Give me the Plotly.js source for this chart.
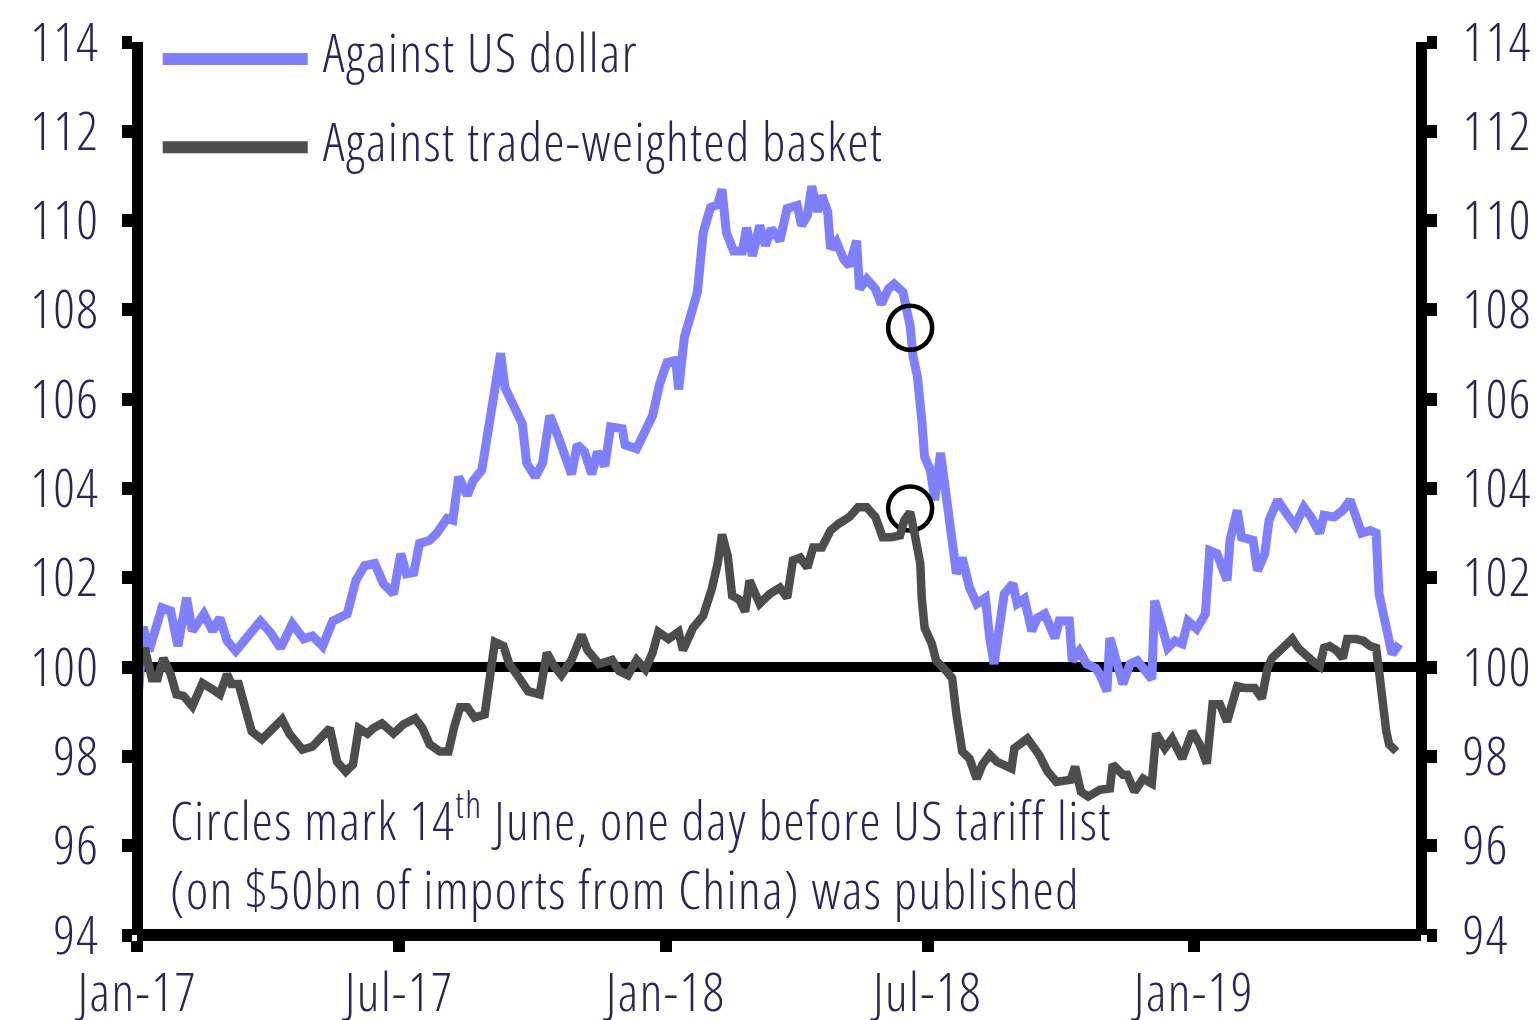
<!DOCTYPE html>
<html>
<head>
<meta charset="utf-8">
<script src="https://cdn.plot.ly/plotly-3.0.1.min.js"></script>
<style>
  html, body { margin: 0; padding: 0; background: #ffffff; }
  #chart { width: 1538px; height: 1020px; }
  svg text { font-stretch: 75% !important; font-weight: 300 !important; letter-spacing: 1.5px; }
</style>
</head>
<body>
<div id="chart"></div>
<script>
// ---------- data ----------
const seriesNames = ['Against US dollar', 'Against trade-weighted basket'];
const seriesColors = ['#8080ff', '#4d4d4d'];

const usdDates = ['2017-01-02','2017-01-05','2017-01-09','2017-01-12','2017-01-18','2017-01-24','2017-01-29','2017-02-04','2017-02-08','2017-02-16',
'2017-02-22','2017-02-27','2017-03-04','2017-03-10','2017-03-18','2017-03-27','2017-04-03','2017-04-10','2017-04-18','2017-04-26',
'2017-05-02','2017-05-09','2017-05-16','2017-05-26','2017-06-01','2017-06-07','2017-06-14','2017-06-20','2017-06-27','2017-07-02',
'2017-07-06','2017-07-11','2017-07-15','2017-07-22','2017-07-27','2017-08-03','2017-08-07','2017-08-11','2017-08-17','2017-08-21',
'2017-08-27','2017-08-31','2017-09-04','2017-09-09','2017-09-12','2017-09-17','2017-09-24','2017-09-27','2017-10-03','2017-10-08',
'2017-10-13','2017-10-19','2017-10-28','2017-11-01','2017-11-06','2017-11-11','2017-11-15','2017-11-20','2017-11-24','2017-12-02',
'2017-12-04','2017-12-12','2017-12-16','2017-12-23','2017-12-28','2018-01-02','2018-01-08','2018-01-10','2018-01-14','2018-01-19',
'2018-01-23','2018-01-27','2018-02-01','2018-02-06','2018-02-09','2018-02-12','2018-02-17','2018-02-23','2018-02-26','2018-03-02',
'2018-03-07','2018-03-11','2018-03-15','2018-03-21','2018-03-26','2018-04-02','2018-04-05','2018-04-09','2018-04-12','2018-04-16',
'2018-04-19','2018-04-23','2018-04-25','2018-04-29','2018-05-04','2018-05-08','2018-05-13','2018-05-15','2018-05-20','2018-05-26',
'2018-05-30','2018-06-04','2018-06-08','2018-06-14','2018-06-19','2018-06-21','2018-06-24','2018-06-27','2018-06-29','2018-07-03',
'2018-07-06','2018-07-10','2018-07-14','2018-07-16','2018-07-21','2018-07-25','2018-07-30','2018-08-04','2018-08-10','2018-08-13',
'2018-08-16','2018-08-23','2018-08-29','2018-09-01','2018-09-06','2018-09-11','2018-09-15','2018-09-20','2018-09-27','2018-09-30',
'2018-10-07','2018-10-09','2018-10-14','2018-10-19','2018-10-25','2018-10-28','2018-11-02','2018-11-04','2018-11-09','2018-11-13',
'2018-11-18','2018-11-23','2018-11-27','2018-12-03','2018-12-05','2018-12-10','2018-12-14','2018-12-19','2018-12-24','2018-12-28',
'2019-01-03','2019-01-09','2019-01-12','2019-01-17','2019-01-24','2019-01-26','2019-01-31','2019-02-03','2019-02-11','2019-02-14',
'2019-02-19','2019-02-22','2019-02-28','2019-03-06','2019-03-12','2019-03-18','2019-03-23','2019-03-29','2019-04-01','2019-04-08',
'2019-04-14','2019-04-19','2019-04-22','2019-04-27','2019-05-03','2019-05-07','2019-05-09','2019-05-14','2019-05-18','2019-05-23'];

const usdValues = [99.5,100.9,100.36,100.74,101.33,101.26,100.47,101.55,100.81,101.19,
100.81,101.10,100.59,100.36,100.65,101.03,100.77,100.43,100.97,100.63,
100.70,100.47,101.03,101.19,101.94,102.27,102.32,101.87,101.64,102.54,
102.09,102.12,102.77,102.84,103.00,103.33,103.29,104.26,103.85,104.17,
104.41,105.22,106.19,107.03,106.26,105.95,105.45,104.57,104.26,104.57,
105.63,105.14,104.32,104.98,104.82,104.32,104.82,104.50,105.38,105.34,
104.98,104.89,105.14,105.63,106.35,106.82,106.87,106.22,107.39,108.04,
108.40,109.73,110.29,110.36,110.70,109.73,109.32,109.32,109.84,109.21,
109.89,109.44,109.82,109.55,110.27,110.34,109.89,110.11,110.77,110.20,
110.56,110.20,109.37,109.53,109.14,108.99,109.55,108.47,108.69,108.47,
108.13,108.47,108.58,108.40,107.64,106.96,106.51,105.54,104.71,104.41,
103.74,104.80,103.81,103.13,102.09,102.45,101.78,101.42,101.55,100.65,
100.07,101.64,101.87,101.42,101.53,100.81,101.10,101.19,100.65,101.03,
101.03,100.14,100.36,100.07,99.98,99.84,99.46,100.65,99.98,99.62,
100.07,100.14,99.98,99.73,101.49,100.88,100.43,100.59,100.52,101.03,
100.86,101.19,102.61,102.54,101.94,102.84,103.51,102.91,102.84,102.16,
102.54,103.29,103.74,103.44,103.17,103.58,103.36,103.00,103.40,103.36,
103.51,103.74,103.44,103.00,103.06,103.00,101.64,100.88,100.29,100.52];

const twDates = ['2017-01-02','2017-01-06','2017-01-11','2017-01-15','2017-01-19','2017-01-24','2017-01-28','2017-02-02','2017-02-08','2017-02-15',
'2017-02-22','2017-02-27','2017-03-04','2017-03-07','2017-03-12','2017-03-17','2017-03-21','2017-03-28','2017-04-03','2017-04-11',
'2017-04-16','2017-04-25','2017-05-02','2017-05-09','2017-05-14','2017-05-19','2017-05-25','2017-05-30','2017-06-03','2017-06-09',
'2017-06-13','2017-06-19','2017-06-27','2017-07-04','2017-07-12','2017-07-17','2017-07-22','2017-07-29','2017-08-04','2017-08-08',
'2017-08-12','2017-08-17','2017-08-22','2017-08-29','2017-09-02','2017-09-05','2017-09-11','2017-09-15','2017-09-22','2017-09-28',
'2017-10-06','2017-10-11','2017-10-16','2017-10-21','2017-10-28','2017-11-04','2017-11-08','2017-11-16','2017-11-25','2017-11-30',
'2017-12-06','2017-12-12','2017-12-18','2017-12-23','2017-12-27','2018-01-03','2018-01-10','2018-01-13','2018-01-20','2018-01-27',
'2018-02-02','2018-02-06','2018-02-09','2018-02-13','2018-02-16','2018-02-21','2018-02-25','2018-02-28','2018-03-07','2018-03-14',
'2018-03-21','2018-03-26','2018-03-30','2018-04-04','2018-04-09','2018-04-13','2018-04-19','2018-04-25','2018-05-01','2018-05-08',
'2018-05-14','2018-05-20','2018-05-26','2018-05-31','2018-06-06','2018-06-12','2018-06-15','2018-06-19','2018-06-22','2018-06-26',
'2018-06-27','2018-06-29','2018-07-04','2018-07-07','2018-07-14','2018-07-18','2018-07-21','2018-07-25','2018-07-30','2018-08-04',
'2018-08-08','2018-08-13','2018-08-18','2018-08-28','2018-08-30','2018-09-08','2018-09-16','2018-09-22','2018-09-28','2018-10-08',
'2018-10-11','2018-10-15','2018-10-20','2018-10-28','2018-11-04','2018-11-06','2018-11-13','2018-11-16','2018-11-21','2018-11-27',
'2018-12-03','2018-12-06','2018-12-12','2018-12-17','2018-12-24','2018-12-31','2019-01-05','2019-01-10','2019-01-14','2019-01-19',
'2019-01-24','2019-01-31','2019-02-06','2019-02-12','2019-02-17','2019-02-21','2019-02-24','2019-03-03','2019-03-10','2019-03-14',
'2019-03-19','2019-03-24','2019-03-29','2019-04-01','2019-04-05','2019-04-10','2019-04-14','2019-04-17','2019-04-23','2019-04-28',
'2019-05-03','2019-05-07','2019-05-09','2019-05-11','2019-05-14','2019-05-16','2019-05-21'];

const twValues = [100.0,100.43,99.75,99.75,100.20,99.84,99.39,99.35,99.12,99.64,
99.50,99.39,99.84,99.62,99.62,98.94,98.56,98.38,98.56,98.83,
98.51,98.15,98.22,98.49,98.63,97.88,97.66,97.82,98.63,98.51,
98.63,98.74,98.51,98.72,98.85,98.63,98.27,98.11,98.11,98.67,
99.10,99.10,98.87,98.94,99.75,100.56,100.47,100.07,99.75,99.46,
99.39,100.32,100.02,99.82,100.16,100.72,100.38,100.07,100.16,99.91,
99.82,100.16,99.95,100.32,100.79,100.63,100.79,100.38,100.88,101.15,
101.76,102.32,102.97,102.48,101.60,101.51,101.24,101.94,101.42,101.64,
101.78,101.55,102.39,102.45,102.23,102.68,102.68,103.06,103.22,103.36,
103.58,103.58,103.36,102.91,102.91,102.95,103.29,103.47,103.00,102.32,
101.55,100.88,100.52,100.14,99.91,99.75,98.94,98.11,97.95,97.50,
97.82,98.04,97.88,97.73,98.18,98.40,98.04,97.66,97.43,97.48,
97.77,97.21,97.10,97.25,97.28,97.82,97.59,97.59,97.21,97.50,
97.39,98.51,98.18,98.40,97.95,98.56,98.27,97.84,99.17,99.17,
98.78,99.57,99.53,99.53,99.30,99.98,100.20,100.43,100.63,100.43,
100.25,100.14,100.02,100.43,100.47,100.36,100.20,100.63,100.63,100.59,
100.47,100.43,99.91,99.30,98.56,98.27,98.11];

// circles (as placed in the picture)
const circleDates = ['2018-06-19', '2018-06-19'];
const circleValues = [107.6, 103.55];

const referenceLevel = 100;
const yTickValues = [94, 96, 98, 100, 102, 104, 106, 108, 110, 112, 114];
const xTickDates = ['2017-01-01', '2017-07-01', '2018-01-01', '2018-07-01', '2019-01-01'];
const xTickLabels = ['Jan-17', 'Jul-17', 'Jan-18', 'Jul-18', 'Jan-19'];
const noteText = 'Circles mark 14<sup>th</sup> June, one day before US tariff list<br>(on $50bn of imports from China) was published';

// ---------- styling ----------
const FONT = "'Open Sans', 'Roboto', sans-serif";
const TEXT = '#2b2358';

const yAxisBase = {
  range: [94, 114],
  tickmode: 'array',
  tickvals: yTickValues,
  ticktext: yTickValues.map(String),
  showgrid: false,
  zeroline: false,
  showline: true,
  linecolor: '#000',
  linewidth: 11,
  ticks: 'outside',
  ticklen: 10,
  tickwidth: 13,
  tickcolor: '#000',
  tickfont: { family: FONT, size: 53, color: TEXT },
  anchor: 'free',
  fixedrange: true
};

const traces = [
  {
    x: usdDates, y: usdValues, type: 'scatter', mode: 'lines',
    name: seriesNames[0], line: { color: seriesColors[0], width: 9 },
    xaxis: 'x', yaxis: 'y', hoverinfo: 'skip'
  },
  {
    x: twDates, y: twValues, type: 'scatter', mode: 'lines',
    name: seriesNames[1], line: { color: seriesColors[1], width: 8.5 },
    xaxis: 'x', yaxis: 'y2', hoverinfo: 'skip'
  },
  {
    x: circleDates, y: circleValues, type: 'scatter', mode: 'markers',
    marker: { symbol: 'circle-open', size: 44, color: '#000', line: { width: 4.5, color: '#000' } },
    xaxis: 'x', yaxis: 'y', hoverinfo: 'skip', cliponaxis: false
  }
];

const legendRows = [0.981, 0.882];
const shapes = [
  { type: 'line', xref: 'paper', yref: 'y', x0: 0, x1: 1, y0: referenceLevel, y1: referenceLevel,
    line: { color: '#000', width: 10 }, layer: 'below' }
];
seriesNames.forEach((n, i) => {
  shapes.push({ type: 'line', xref: 'paper', yref: 'paper', x0: 0.020, x1: 0.133,
    y0: legendRows[i], y1: legendRows[i], line: { color: seriesColors[i], width: 12 } });
});

const annotations = seriesNames.map((n, i) => ({
  text: n, xref: 'paper', yref: 'paper', x: 0.143, y: legendRows[i] + 0.008,
  xanchor: 'left', yanchor: 'middle', showarrow: false,
  font: { family: FONT, size: 53, color: TEXT }
}));
annotations.push({
  text: noteText, xref: 'paper', yref: 'paper', x: 0.024, y: 0.093,
  xanchor: 'left', yanchor: 'middle', align: 'left', showarrow: false,
  font: { family: FONT, size: 53, color: TEXT }
});

const layout = {
  width: 1538, height: 1020,
  margin: { l: 137, r: 117, t: 42, b: 85, pad: 0 },
  paper_bgcolor: '#ffffff', plot_bgcolor: '#ffffff',
  showlegend: false,
  xaxis: {
    type: 'date',
    range: ['2016-12-31 18:00', '2019-06-07'],
    tickmode: 'array', tickvals: xTickDates, ticktext: xTickLabels,
    showgrid: false, zeroline: false,
    showline: true, linecolor: '#000', linewidth: 12,
    ticks: 'outside', ticklen: 11, tickwidth: 12, tickcolor: '#000',
    tickfont: { family: FONT, size: 53, color: TEXT },
    ticklabelstandoff: -5,
    anchor: 'free', position: 0, fixedrange: true
  },
  yaxis: Object.assign({}, yAxisBase, { side: 'left', position: 0, ticklabelstandoff: 12 }),
  yaxis2: Object.assign({}, yAxisBase, { side: 'right', position: 1, overlaying: 'y', ticklabelstandoff: 15 }),
  shapes: shapes,
  annotations: annotations
};

Plotly.newPlot('chart', traces, layout, { displayModeBar: false, staticPlot: true });
</script>
</body>
</html>
